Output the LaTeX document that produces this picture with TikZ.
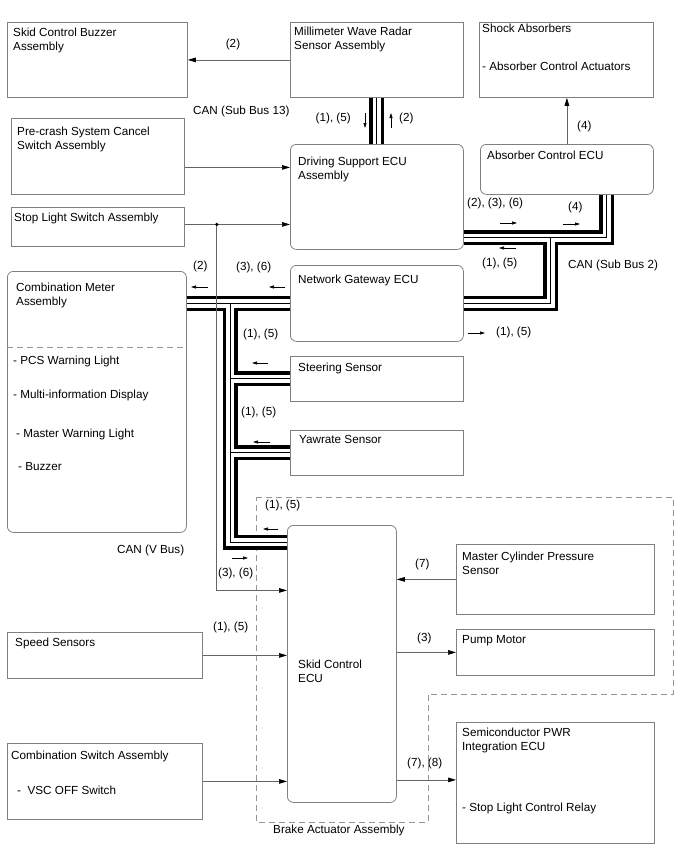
\documentclass[tikz,border=0pt]{standalone}
\usepackage{fontspec}
\setmainfont{Liberation Sans}
\usepackage{tikz}
\usetikzlibrary{
  arrows.meta,
  positioning,
  calc
}
\definecolor{BoxGray}{RGB}{128,128,128}
\definecolor{LineGray}{RGB}{100,100,100}
\definecolor{DashGray}{RGB}{150,150,150}
\tikzset{
  %%── boxes ────────────────────────────────────────────────
  blk/.style = {
    rectangle, draw = BoxGray, line width = 0.8pt,
    anchor = north west, inner sep = 0pt
  },
  ecu/.style = {blk, rounded corners = 6pt},
  txt/.style = {font = \fontsize{11.7}{14}\selectfont, align = left, inner sep = 0pt},
  boxtxt/.style = {txt, anchor = north west},
  grp/.style = {draw = DashGray, dash pattern = on 6pt off 4pt, line width = 0.8pt},
  %%── connectors ───────────────────────────────────────────
  arr/.style  = {draw = LineGray, line width = 0.7pt,
                 -{Triangle[length = 8pt, width = 4.6pt, color = black]}},
  flow/.style = {draw = black, line width = 0.6pt,
                 -{Triangle[length = 5pt, width = 3pt]}},
  %%── CAN bus (three layers) ───────────────────────────────
  busout/.style  = {draw = black, line width = 15pt},
  busin/.style   = {draw = white, line width = 8.5pt},
  buscore/.style = {draw = black, line width = 0.9pt},
}
\newcommand{\canbus}[1]{%
  \draw[busout] #1;
  \draw[busin] #1;
  \draw[buscore] #1;}

\begin{document}
\begin{tikzpicture}[x = 1pt, y = -1pt]
  \useasboundingbox (0,0) rectangle (688,852);

  %% ── Brake Actuator Assembly (dashed group) ─────────────
  \draw[grp] (256,497) -- (673,497) -- (673,694) -- (428,694)
             -- (428,822) -- (256,822) -- cycle;
  \node[txt, anchor = west] (bact) at (273,830) {Brake Actuator Assembly};

  %% ── row 1 ──────────────────────────────────────────────
  \node[blk, minimum width = 180pt, minimum height = 75pt,
        label = {[boxtxt, xshift = 6pt, yshift = -6pt]north west:{Skid Control Buzzer\\Assembly}}]
        (buzzer) at (7,22) {};
  \node[blk, minimum width = 173pt, minimum height = 75pt,
        label = {[boxtxt, xshift = 4pt, yshift = -5pt]north west:{Millimeter Wave Radar\\Sensor Assembly}}]
        (radar) at (290,22) {};
  \node[blk, minimum width = 174pt, minimum height = 75pt,
        label = {[boxtxt, xshift = 3pt, yshift = -2pt]north west:{Shock Absorbers}},
        label = {[boxtxt, xshift = 3pt, yshift = -40pt]north west:{- Absorber Control Actuators}}]
        (shock) at (479,22) {};

  %% ── row 2 ──────────────────────────────────────────────
  \node[blk, minimum width = 173pt, minimum height = 76pt,
        label = {[boxtxt, xshift = 6pt, yshift = -9pt]north west:{Pre-crash System Cancel\\Switch Assembly}}]
        (precrash) at (11,118) {};
  \node[ecu, minimum width = 173pt, minimum height = 105pt,
        label = {[boxtxt, xshift = 8pt, yshift = -13pt]north west:{Driving Support ECU\\Assembly}}]
        (dsecu) at (290,144) {};
  \node[ecu, minimum width = 173pt, minimum height = 50pt,
        label = {[boxtxt, xshift = 7pt, yshift = -7pt]north west:{Absorber Control ECU}}]
        (absecu) at (480,144) {};
  \node[blk, minimum width = 173pt, minimum height = 39pt,
        label = {[boxtxt, xshift = 3pt, yshift = -6pt]north west:{Stop Light Switch Assembly}}]
        (stoplight) at (11,207) {};

  %% ── combination meter + V bus nodes ────────────────────
  \node[ecu, minimum width = 179pt, minimum height = 261pt,
        label = {[boxtxt, xshift = 9pt, yshift = -12pt]north west:{Combination Meter\\Assembly}},
        label = {[boxtxt, xshift = 6pt, yshift = -85pt]north west:{- PCS Warning Light}},
        label = {[boxtxt, xshift = 6pt, yshift = -119pt]north west:{- Multi-information Display}},
        label = {[boxtxt, xshift = 9pt, yshift = -158pt]north west:{- Master Warning Light}},
        label = {[boxtxt, xshift = 11pt, yshift = -191pt]north west:{- Buzzer}}]
        (meter) at (7,271) {};
  \draw[grp] ([yshift = -76pt]meter.north west) -- ([yshift = -76pt]meter.north east);

  \node[ecu, minimum width = 173pt, minimum height = 76pt,
        label = {[boxtxt, xshift = 8pt, yshift = -10pt]north west:{Network Gateway ECU}}]
        (gateway) at (290,265) {};
  \node[blk, minimum width = 173pt, minimum height = 45pt,
        label = {[boxtxt, xshift = 8pt, yshift = -7pt]north west:{Steering Sensor}}]
        (steer) at (290,356) {};
  \node[blk, minimum width = 173pt, minimum height = 45pt,
        label = {[boxtxt, xshift = 9pt, yshift = -5pt]north west:{Yawrate Sensor}}]
        (yaw) at (290,430) {};

  %% ── skid control ECU and its partners ──────────────────
  \node[ecu, minimum width = 109pt, minimum height = 277pt,
        label = {[boxtxt, xshift = 11pt, yshift = 4.5pt]west:{Skid Control\\ECU}}]
        (skid) at (287,525) {};
  \node[blk, minimum width = 198pt, minimum height = 70pt,
        label = {[boxtxt, xshift = 6pt, yshift = -8pt]north west:{Master Cylinder Pressure\\Sensor}}]
        (mcp) at (456,544) {};
  \node[blk, minimum width = 198pt, minimum height = 46pt,
        label = {[boxtxt, xshift = 6pt, yshift = -6pt]north west:{Pump Motor}}]
        (pump) at (456,629) {};
  \node[blk, minimum width = 198pt, minimum height = 121pt,
        label = {[boxtxt, xshift = 6pt, yshift = -6pt]north west:{Semiconductor PWR\\Integration ECU}},
        label = {[boxtxt, xshift = 6pt, yshift = -81pt]north west:{- Stop Light Control Relay}}]
        (semi) at (456,722) {};
  \node[blk, minimum width = 195pt, minimum height = 46pt,
        label = {[boxtxt, xshift = 8pt, yshift = -6pt]north west:{Speed Sensors}}]
        (spd) at (7,632) {};
  \node[blk, minimum width = 195pt, minimum height = 76pt,
        label = {[boxtxt, xshift = 4pt, yshift = -8pt]north west:{Combination Switch Assembly}},
        label = {[boxtxt, xshift = 10pt, yshift = -43pt]north west:{-\ \ VSC OFF Switch}}]
        (combsw) at (7,743) {};

  %% ── CAN buses ──────────────────────────────────────────
  \coordinate (s2a) at ([yshift = 12pt]dsecu.south east);
  \coordinate (s2b) at ([xshift = 40pt]absecu.south);
  \coordinate (s2c) at ([xshift = 87pt]s2a);
  \coordinate (vb)  at ([xshift = -60pt]gateway.west);

  \canbus{(radar.south) -- (radar.south |- dsecu.north)}
  \canbus{(s2a) -| (s2b) (s2c) |- (gateway.east)}
  \canbus{(gateway.west -| meter.east) -- (gateway.west)
          (vb) |- ([yshift = -17pt]skid.north west)
          (vb |- steer.west) -- (steer.west)
          (vb |- yaw.west) -- (yaw.west)}

  %% ── signal lines ───────────────────────────────────────
  \coordinate (jn) at ([xshift = 32pt, yshift = 2.5pt]stoplight.east);
  \draw[arr] (radar.west) -- (buzzer.east);
  \draw[arr] ([yshift = -11pt]precrash.east) -- ([yshift = -11pt]precrash.east -| dsecu.west);
  \draw[arr] ([yshift = 2.5pt]stoplight.east) -- ([yshift = 2.5pt]stoplight.east -| dsecu.west);
  \draw[arr] (jn) |- ([yshift = 73.5pt]skid.west);
  \fill (jn) circle (1.8pt);
  \draw[arr] (absecu.north) -- (absecu.north |- shock.south);
  \draw[arr] (spd.east) -- (spd.east -| skid.west);
  \draw[arr] (combsw.east) -- (combsw.east -| skid.west);
  \draw[arr] (mcp.west) -- (mcp.west -| skid.east);
  \draw[arr] (pump.west -| skid.east) -- (pump.west);
  \draw[arr] ([yshift = 3pt]semi.west -| skid.east) -- ([yshift = 3pt]semi.west);

  %% ── labels: Sub Bus 13 ─────────────────────────────────
  \node[txt, anchor = west] (b13)  at (193,111) {CAN (Sub Bus 13)};
  \node[txt, anchor = east] (b13a) at (351,118) {(1), (5)};
  \node[txt, anchor = west] (b13b) at (399,118) {(2)};
  \node[txt, anchor = center] (c2) at (233,44) {(2)};
  \draw[flow] (365,113) -- (365,128);
  \draw[flow] (391,128) -- (391,113);

  %% ── labels: Sub Bus 2 ──────────────────────────────────
  \node[txt, anchor = west] (b2)  at (568,265) {CAN (Sub Bus 2)};
  \node[txt, anchor = west] (b2a) at (467,203) {(2), (3), (6)};
  \node[txt, anchor = west] (b2b) at (568,207) {(4)};
  \node[txt, anchor = west] (b2c) at (482,263) {(1), (5)};
  \node[txt, anchor = west] (b2d) at (496,332) {(1), (5)};
  \node[txt, anchor = west] (c4)  at (577,126) {(4)};
  \draw[flow] (500,223) -- (517,223);
  \draw[flow] (563,224) -- (580,224);
  \draw[flow] (516,248) -- (499,248);
  \draw[flow] (468,333) -- (485,333);

  %% ── labels: V bus ──────────────────────────────────────
  \node[txt, anchor = west] (vbl) at (117,550) {CAN (V Bus)};
  \node[txt, anchor = west] (v1)  at (193,266) {(2)};
  \node[txt, anchor = west] (v2)  at (236,267) {(3), (6)};
  \node[txt, anchor = west] (v3)  at (243,334) {(1), (5)};
  \node[txt, anchor = west] (v4)  at (241,412) {(1), (5)};
  \node[txt, anchor = west] (v5)  at (265,505) {(1), (5)};
  \node[txt, anchor = west] (v6)  at (218,573) {(3), (6)};
  \draw[flow] (208,287) -- (191,287);
  \draw[flow] (285,287) -- (269,287);
  \draw[flow] (268,363) -- (252,363);
  \draw[flow] (270,442) -- (253,442);
  \draw[flow] (278,529) -- (263,529);
  \draw[flow] (232,558) -- (248,558);

  %% ── labels: skid control ECU lines ─────────────────────
  \node[txt, anchor = west] (k1) at (213,627) {(1), (5)};
  \node[txt, anchor = west] (k2) at (415,564) {(7)};
  \node[txt, anchor = west] (k3) at (417,638) {(3)};
  \node[txt, anchor = west] (k4) at (407,763) {(7), (8)};

\end{tikzpicture}
\end{document}
